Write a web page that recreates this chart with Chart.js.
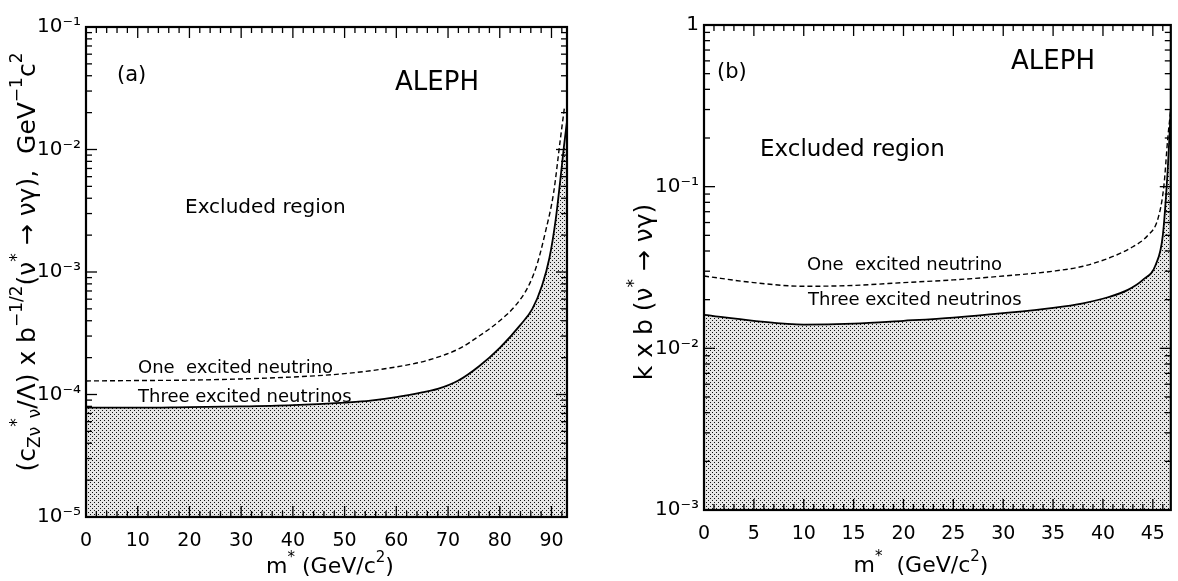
<!DOCTYPE html>
<html><head><meta charset="utf-8">
<script src="https://cdn.jsdelivr.net/npm/chart.js@4.4.0/dist/chart.umd.min.js"></script>
<style>
html,body{margin:0;padding:0;background:#fff;width:1178px;height:581px;overflow:hidden}
#ca{position:absolute;left:0;top:0}
#cb{position:absolute;left:600px;top:0}
</style></head><body>
<canvas id="ca" width="600" height="581"></canvas>
<canvas id="cb" width="578" height="581"></canvas>
<script>
// ---------- Panel (a) data ----------
const massOneA   = [0, 10, 20, 30, 40, 50, 60, 66, 72, 76, 80, 83, 85.5, 87.2, 88.8, 90.4, 91.7, 92.5];
const limitOneA  = [1.29e-4, 1.30e-4, 1.31e-4, 1.34e-4, 1.39e-4, 1.48e-4, 1.68e-4, 1.9e-4, 2.35e-4, 3.0e-4, 4.0e-4, 5.3e-4, 7.6e-4, 1.15e-3, 2.1e-3, 4.4e-3, 1.2e-2, 2.2e-2];
const massThreeA  = [0, 10, 20, 30, 40, 50, 55, 60, 65, 68, 72, 76, 80, 84, 86.3, 88.2, 89.6, 90.8, 91.7, 92.4, 93];
const limitThreeA = [7.8e-5, 7.8e-5, 7.9e-5, 8.0e-5, 8.2e-5, 8.6e-5, 8.9e-5, 9.5e-5, 1.04e-4, 1.11e-4, 1.3e-4, 1.7e-4, 2.4e-4, 3.7e-4, 5.0e-4, 7.8e-4, 1.3e-3, 2.65e-3, 5.6e-3, 1.05e-2, 1.7e-2];
const xTicksA = [0, 10, 20, 30, 40, 50, 60, 70, 80, 90];
const yTicksA = [1e-5, 1e-4, 1e-3, 1e-2, 1e-1];
const yTickLabelsA = ['10⁻⁵', '10⁻⁴', '10⁻³', '10⁻²', '10⁻¹'];

// ---------- Panel (b) data ----------
const massOneB   = [0, 5, 10, 15, 20, 25, 30, 35, 38, 41, 43, 44.5, 45.5, 46.1, 46.5, 46.8];
const limitOneB  = [2.8e-2, 2.55e-2, 2.42e-2, 2.45e-2, 2.55e-2, 2.65e-2, 2.8e-2, 3.0e-2, 3.22e-2, 3.7e-2, 4.25e-2, 5.0e-2, 6.3e-2, 0.1, 0.2, 0.3];
const massThreeB  = [0, 5, 10, 15, 20, 25, 30, 35, 38, 40.5, 42.5, 44, 45.3, 46, 46.5, 46.8];
const limitThreeB = [1.61e-2, 1.48e-2, 1.40e-2, 1.42e-2, 1.48e-2, 1.55e-2, 1.65e-2, 1.78e-2, 1.9e-2, 2.07e-2, 2.3e-2, 2.65e-2, 3.3e-2, 5.0e-2, 0.13, 0.3];
const xTicksB = [0, 5, 10, 15, 20, 25, 30, 35, 40, 45];
const yTicksB = [1e-3, 1e-2, 1e-1, 1];
const yTickLabelsB = ['10⁻³', '10⁻²', '10⁻¹', '1'];

const FONT = "'DejaVu Sans', sans-serif";

function pts(xs, ys) { return xs.map((x, i) => ({ x: x, y: ys[i] })); }

function makePattern(ctx) {
  const c = document.createElement('canvas'); c.width = 4; c.height = 4;
  const g = c.getContext('2d');
  g.fillStyle = '#e6e6e6'; g.fillRect(0, 0, 4, 4);
  g.fillStyle = '#111';
  g.fillRect(0, 0, 1, 1); g.fillRect(2, 2, 1, 1);
  return ctx.createPattern(c, 'repeat');
}

function drawRich(ctx, segs, x, y, size, align) {
  const parts = segs.map(([t, m]) => {
    const s = m === 'n' ? size : Math.round(size * 0.68);
    ctx.font = s + 'px ' + FONT;
    return { t, m, s, w: ctx.measureText(t).width };
  });
  const total = parts.reduce((a, p) => a + p.w, 0);
  let cx = align === 'center' ? x - total / 2 : x;
  ctx.textBaseline = 'middle'; ctx.textAlign = 'left';
  for (const p of parts) {
    ctx.font = p.s + 'px ' + FONT;
    const dy = p.m === 'sup' ? -size * 0.42 : (p.m === 'sub' ? size * 0.3 : 0);
    ctx.fillText(p.t, cx, y + dy);
    cx += p.w;
  }
}

const framePlugin = {
  id: 'frame',
  afterDatasetsDraw(chart, args, opts) {
    const { ctx, chartArea: a } = chart;
    const x = chart.scales.x, y = chart.scales.y;
    ctx.save();
    ctx.strokeStyle = '#000';
    ctx.lineWidth = 1.3;
    const seg = (x1, y1, x2, y2) => { ctx.beginPath(); ctx.moveTo(x1, y1); ctx.lineTo(x2, y2); ctx.stroke(); };
    for (let k = 0; k * opts.xMinor <= x.max + 1e-9; k++) {
      const v = k * opts.xMinor;
      const major = Math.abs(v / opts.xMajor - Math.round(v / opts.xMajor)) < 1e-6;
      const px = x.getPixelForValue(v);
      const len = major ? 11 : 6;
      seg(px, a.bottom, px, a.bottom - len);
      seg(px, a.top, px, a.top + len);
    }
    const e0 = Math.round(Math.log10(y.min)), e1 = Math.round(Math.log10(y.max));
    for (let e = e0; e <= e1; e++) {
      for (let m = 1; m <= 9; m++) {
        const v = m * Math.pow(10, e);
        if (v > y.max * 1.0001) break;
        const py = y.getPixelForValue(v);
        const len = m === 1 ? 11 : 6;
        seg(a.left, py, a.left + len, py);
        seg(a.right, py, a.right - len, py);
      }
    }
    ctx.lineWidth = 2.2;
    ctx.strokeRect(a.left, a.top, a.right - a.left, a.bottom - a.top);
    ctx.restore();
  }
};

const notesPlugin = {
  id: 'notes',
  afterDraw(chart, args, opts) {
    const ctx = chart.ctx;
    ctx.save();
    ctx.fillStyle = '#000';
    for (const n of opts.items) {
      if (n.rot) {
        ctx.save();
        ctx.translate(n.x, n.y);
        ctx.rotate(-Math.PI / 2);
        drawRich(ctx, n.segs, 0, 0, n.size, 'center');
        ctx.restore();
      } else {
        drawRich(ctx, n.segs, n.x, n.y, n.size, n.align || 'left');
      }
    }
    ctx.restore();
  }
};

function makeChart(id, cfg) {
  const canvas = document.getElementById(id);
  const ctx = canvas.getContext('2d');
  const pattern = makePattern(ctx);
  return new Chart(canvas, {
    type: 'line',
    data: {
      datasets: [
        { label: 'Three excited neutrinos', data: pts(cfg.threeX, cfg.threeY), borderColor: '#000', borderWidth: 1.8,
          fill: 'start', backgroundColor: pattern, pointRadius: 0, cubicInterpolationMode: 'monotone' },
        { label: 'One excited neutrino', data: pts(cfg.oneX, cfg.oneY), borderColor: '#000', borderWidth: 1.4,
          borderDash: [5, 3], fill: false, pointRadius: 0, cubicInterpolationMode: 'monotone' }
      ]
    },
    options: {
      responsive: false, animation: false, devicePixelRatio: 1,
      layout: { padding: cfg.padding },
      plugins: {
        legend: { display: false }, tooltip: { enabled: false },
        frame: { xMinor: cfg.xMinor, xMajor: cfg.xMajor },
        notes: { items: cfg.notes }
      },
      scales: {
        x: {
          type: 'linear', min: 0, max: cfg.xMax,
          afterBuildTicks: s => { s.ticks = cfg.xTicks.map(v => ({ value: v })); },
          afterFit: s => { s.height = cfg.xHeight; },
          grid: { display: false, drawTicks: false }, border: { display: false },
          ticks: { padding: 13, color: '#000', maxRotation: 0, autoSkip: false, font: { family: FONT, size: 19 } }
        },
        y: {
          type: 'logarithmic', min: cfg.yTicks[0], max: cfg.yTicks[cfg.yTicks.length - 1],
          afterBuildTicks: s => { s.ticks = cfg.yTicks.map(v => ({ value: v })); },
          afterFit: s => { s.width = cfg.yWidth; },
          grid: { display: false, drawTicks: false }, border: { display: false },
          ticks: { padding: 5, color: '#000', autoSkip: false, font: { family: FONT, size: 20 },
                   callback: (v, i) => cfg.yLabels[i] }
        }
      }
    },
    plugins: [framePlugin, notesPlugin]
  });
}

makeChart('ca', {
  oneX: massOneA, oneY: limitOneA, threeX: massThreeA, threeY: limitThreeA,
  xTicks: xTicksA, yTicks: yTicksA, yLabels: yTickLabelsA, xMax: 93, xMinor: 2, xMajor: 10,
  padding: { left: 0, top: 27, right: 33, bottom: 0 }, xHeight: 64, yWidth: 86,
  notes: [
    { segs: [['(a)', 'n']], x: 117, y: 76, size: 21 },
    { segs: [['ALEPH', 'n']], x: 395, y: 83, size: 26 },
    { segs: [['Excluded region', 'n']], x: 185, y: 208, size: 20 },
    { segs: [['One  excited neutrino', 'n']], x: 138, y: 368, size: 18 },
    { segs: [['Three excited neutrinos', 'n']], x: 138, y: 397, size: 18 },
    { segs: [['m', 'n'], ['*', 'sup'], [' (GeV/c', 'n'], ['2', 'sup'], [')', 'n']], x: 330, y: 567, size: 22, align: 'center' },
    { rot: true, segs: [['(c', 'n'], ['Zν', 'sub'], ['*', 'sup'], ['ν', 'sub'], ['/Λ) x b', 'n'], ['−1/2', 'sup'], ['(ν', 'n'], ['*', 'sup'], [' → νγ),  GeV', 'n'], ['−1', 'sup'], ['c', 'n'], ['2', 'sup']], x: 28, y: 262, size: 25 }
  ]
});

makeChart('cb', {
  oneX: massOneB, oneY: limitOneB, threeX: massThreeB, threeY: limitThreeB,
  xTicks: xTicksB, yTicks: yTicksB, yLabels: yTickLabelsB, xMax: 46.8, xMinor: 1, xMajor: 5,
  padding: { left: 0, top: 25, right: 2, bottom: 0 }, xHeight: 71, yWidth: 104,
  notes: [
    { segs: [['(b)', 'n']], x: 117, y: 73, size: 21 },
    { segs: [['ALEPH', 'n']], x: 411, y: 62, size: 26 },
    { segs: [['Excluded region', 'n']], x: 160, y: 150, size: 23 },
    { segs: [['One  excited neutrino', 'n']], x: 207, y: 265, size: 18 },
    { segs: [['Three excited neutrinos', 'n']], x: 208, y: 300, size: 18 },
    { segs: [['m', 'n'], ['*', 'sup'], ['  (GeV/c', 'n'], ['2', 'sup'], [')', 'n']], x: 321, y: 566, size: 22, align: 'center' },
    { rot: true, segs: [['k x b (ν', 'n'], ['*', 'sup'], [' → νγ)', 'n']], x: 45, y: 292, size: 25 }
  ]
});
</script>
</body></html>
